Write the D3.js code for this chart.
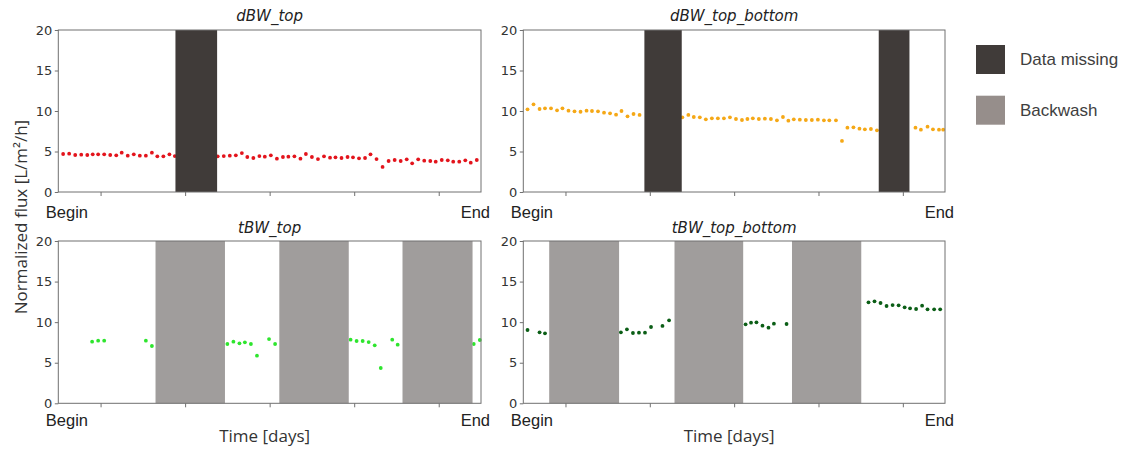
<!DOCTYPE html>
<html>
<head>
<meta charset="utf-8">
<script src="https://cdn.jsdelivr.net/npm/d3@7"></script>
<style>
  html, body { margin: 0; padding: 0; background: #fff; }
  svg { display: block; }
</style>
</head>
<body>
<svg id="chart" width="1129" height="452"></svg>
<script>
// ---- data ---------------------------------------------------------------
const xDomain = [0, 70];                 // days
const xTicks = [7, 21, 35, 49, 63];
const yTicks = [0, 5, 10, 15, 20];
const edgeLabels = ["Begin", "End"];
const panelTitles = ["dBW_top", "dBW_top_bottom", "tBW_top", "tBW_top_bottom"];
const legendLabels = ["Data missing", "Backwash"];

// dBW_top (red)
const dTopDays = [0.8,1.8,2.8,3.8,4.8,5.7,6.6,7.6,8.6,9.6,10.5,11.5,12.5,13.5,14.5,15.5,16.4,17.4,18.4,19.3,
  26.4,27.4,28.4,29.4,30.4,31.3,32.3,33.3,34.2,35.2,36.2,37.2,38.1,39.1,40.1,41.0,42.0,43.0,44.0,45.0,
  45.9,46.9,47.9,48.8,49.8,50.8,51.7,52.7,53.7,54.7,55.7,56.7,57.7,58.6,59.6,60.6,61.6,62.5,63.5,64.5,
  65.4,66.4,67.4,68.3,69.3];
const dTopFlux = [4.69,4.73,4.57,4.61,4.57,4.65,4.65,4.65,4.57,4.53,4.86,4.49,4.65,4.49,4.49,4.86,4.40,4.40,4.65,4.44,
  4.40,4.44,4.49,4.53,4.81,4.32,4.20,4.44,4.36,4.53,4.12,4.32,4.36,4.40,4.12,4.69,4.32,4.07,4.40,4.24,
  4.28,4.20,4.32,4.28,4.16,4.20,4.65,4.07,3.09,3.83,3.95,3.83,4.03,3.54,4.03,3.87,3.83,3.75,3.95,3.91,
  3.75,3.75,3.91,3.62,3.95];
const dTopMissing = [[19.4, 26.3]];

// dBW_top_bottom (orange)
const dTopBottomDays = [0.7,1.7,2.7,3.6,4.6,5.6,6.5,7.5,8.5,9.5,10.5,11.4,12.4,13.4,14.4,15.4,16.3,17.3,18.3,19.3,
  26.4,27.4,28.3,29.3,30.3,31.3,32.3,33.3,34.3,35.3,36.3,37.2,38.1,39.1,40.1,41.1,42.1,43.1,44.0,44.9,
  45.9,46.9,47.9,48.9,49.9,50.8,51.9,52.9,53.8,54.8,55.8,56.7,57.7,58.7,
  65.1,66.0,67.1,68.0,69.0,69.7];
const dTopBottomFlux = [10.21,10.82,10.25,10.33,10.33,10.08,10.33,10.04,9.96,9.91,10.04,10.00,9.96,9.79,9.71,9.55,10.00,9.34,9.63,9.51,
  9.22,9.51,9.26,9.22,8.97,9.09,9.09,9.09,9.22,9.01,8.89,9.01,9.09,9.01,9.05,9.01,8.85,9.26,8.81,8.97,
  8.93,8.89,8.89,8.93,8.85,8.85,8.85,6.30,7.94,7.98,7.82,7.74,7.78,7.61,
  7.94,7.70,8.07,7.74,7.70,7.70];
const dTopBottomMissing = [[20.1, 26.3], [59.0, 64.1]];

// tBW_top (lime)
const tTopDays = [5.6,6.6,7.6,14.5,15.5,28.0,29.0,30.0,30.9,31.9,32.9,34.9,35.9,48.4,49.4,50.4,51.4,52.4,53.4,55.3,56.2,68.8,69.8];
const tTopFlux = [7.60,7.72,7.72,7.72,7.06,7.31,7.60,7.39,7.52,7.31,5.87,7.92,7.31,7.84,7.68,7.68,7.55,7.14,4.35,7.84,7.22,7.31,7.80];
const tTopBackwash = [[16.1, 27.6], [36.6, 48.1], [57.0, 68.6]];

// tBW_top_bottom (dark green)
const tTopBottomDays = [0.7,2.7,3.6,16.2,17.2,18.2,19.2,20.2,21.2,23.1,24.2,36.9,37.8,38.7,39.7,40.7,41.6,43.7,
  57.3,58.3,59.3,60.3,61.3,62.3,63.3,64.2,65.2,66.2,67.1,68.2,69.2];
const tTopBottomFlux = [9.03,8.75,8.62,8.75,9.11,8.66,8.70,8.70,9.40,9.53,10.23,9.73,9.94,9.98,9.57,9.32,9.81,9.77,
  12.44,12.57,12.36,11.99,12.11,12.07,11.83,11.70,11.62,12.03,11.58,11.58,11.58];
const tTopBottomBackwash = [[4.3, 15.9], [25.1, 36.5], [44.6, 56.1]];

// ---- styling ------------------------------------------------------------
const colMissing = "#403b39";
const colBackwashPanel = "#a09d9c";
const colBackwashKey = "#968e8b";
const tickFont = "'DejaVu Sans', sans-serif";
const labelFont = "'Open Sans', sans-serif";
const edgeFont = "'Liberation Sans', Arial, sans-serif";

const panels = [
  { title: panelTitles[0], days: dTopDays, flux: dTopFlux, spans: dTopMissing, spanColor: colMissing,
    dot: "#e3141c", box: { l: 58.3, r: 481, t: 30, b: 192 }, labelDy: 26, titleY: 21 },
  { title: panelTitles[1], days: dTopBottomDays, flux: dTopBottomFlux, spans: dTopBottomMissing, spanColor: colMissing,
    dot: "#f5a816", box: { l: 523.3, r: 945, t: 30, b: 192 }, labelDy: 26, titleY: 21 },
  { title: panelTitles[2], days: tTopDays, flux: tTopFlux, spans: tTopBackwash, spanColor: colBackwashPanel,
    dot: "#2ee52e", box: { l: 58.3, r: 481, t: 241, b: 403.3 }, labelDy: 22.6, titleY: 233, xLabel: true },
  { title: panelTitles[3], days: tTopBottomDays, flux: tTopBottomFlux, spans: tTopBottomBackwash, spanColor: colBackwashPanel,
    dot: "#0b5e16", box: { l: 523.3, r: 945, t: 241, b: 403.3 }, labelDy: 22.6, titleY: 233, xLabel: true }
];

const svg = d3.select("#chart");

panels.forEach(p => {
  const { l, r, t, b } = p.box;
  const x = d3.scaleLinear().domain(xDomain).range([l, r]);
  const y = d3.scaleLinear().domain([0, 20]).range([b, t]);
  const g = svg.append("g");

  // points
  g.selectAll("circle.pt")
    .data(p.days.map((d, i) => ({ d, v: p.flux[i] })))
    .join("circle")
    .attr("class", "pt")
    .attr("cx", o => x(o.d))
    .attr("cy", o => y(o.v))
    .attr("r", 1.9)
    .attr("fill", p.dot);

  // shaded intervals (missing data / backwash)
  g.selectAll("rect.span")
    .data(p.spans)
    .join("rect")
    .attr("class", "span")
    .attr("x", s => x(s[0]))
    .attr("width", s => x(s[1]) - x(s[0]))
    .attr("y", y(20))
    .attr("height", y(0) - y(20))
    .attr("fill", p.spanColor);

  // frame
  g.append("rect")
    .attr("x", l).attr("y", t)
    .attr("width", r - l).attr("height", b - t)
    .attr("fill", "none")
    .attr("stroke", "#707070")
    .attr("stroke-width", 1);

  // y axis
  const ya = g.append("g")
    .attr("transform", `translate(${l},0)`)
    .call(d3.axisLeft(y).tickValues(yTicks).tickSize(3.5).tickPadding(2.5));
  ya.select(".domain").remove();
  ya.selectAll("line").attr("stroke", "#707070");
  ya.selectAll("text")
    .attr("font-family", tickFont)
    .attr("font-size", 13)
    .attr("fill", "#333");

  // x axis (unlabelled ticks)
  const xa = g.append("g")
    .attr("transform", `translate(0,${b})`)
    .call(d3.axisBottom(x).tickValues(xTicks).tickSize(4).tickFormat(""));
  xa.select(".domain").remove();
  xa.selectAll("line").attr("stroke", "#707070");

  // Begin / End
  g.append("text")
    .attr("x", l - 12.5).attr("y", b + p.labelDy)
    .attr("font-family", edgeFont).attr("font-size", 16.5)
    .attr("fill", "#222")
    .text(edgeLabels[0]);
  g.append("text")
    .attr("x", r + 9).attr("y", b + p.labelDy)
    .attr("text-anchor", "end")
    .attr("font-family", edgeFont).attr("font-size", 16.5)
    .attr("fill", "#222")
    .text(edgeLabels[1]);

  // title
  g.append("text")
    .attr("x", (l + r) / 2).attr("y", p.titleY)
    .attr("text-anchor", "middle")
    .attr("font-family", tickFont).attr("font-style", "italic")
    .attr("font-size", 15)
    .attr("fill", "#222")
    .text(p.title);

  if (p.xLabel) {
    g.append("text")
      .attr("x", (l + r) / 2 - 5).attr("y", 442)
      .attr("text-anchor", "middle")
      .attr("font-family", labelFont).attr("font-size", 17)
      .attr("fill", "#333")
      .text("Time [days]");
  }
});

// shared y-axis label
svg.append("text")
  .attr("transform", "translate(27,217) rotate(-90)")
  .attr("text-anchor", "middle")
  .attr("font-family", labelFont).attr("font-size", 17)
  .attr("fill", "#333")
  .text("Normalized flux [L/m²/h]");

// legend
const legend = svg.append("g");
const keyColors = [colMissing, colBackwashKey];
legendLabels.forEach((lab, i) => {
  const top = 45 + i * 50.7;
  legend.append("rect")
    .attr("x", 976).attr("y", top)
    .attr("width", 29).attr("height", 29)
    .attr("fill", keyColors[i]);
  legend.append("text")
    .attr("x", 1020).attr("y", top + 20)
    .attr("font-family", "'Liberation Sans', Arial, sans-serif")
    .attr("font-size", 17)
    .attr("fill", "#404040")
    .text(lab);
});
</script>
</body>
</html>
